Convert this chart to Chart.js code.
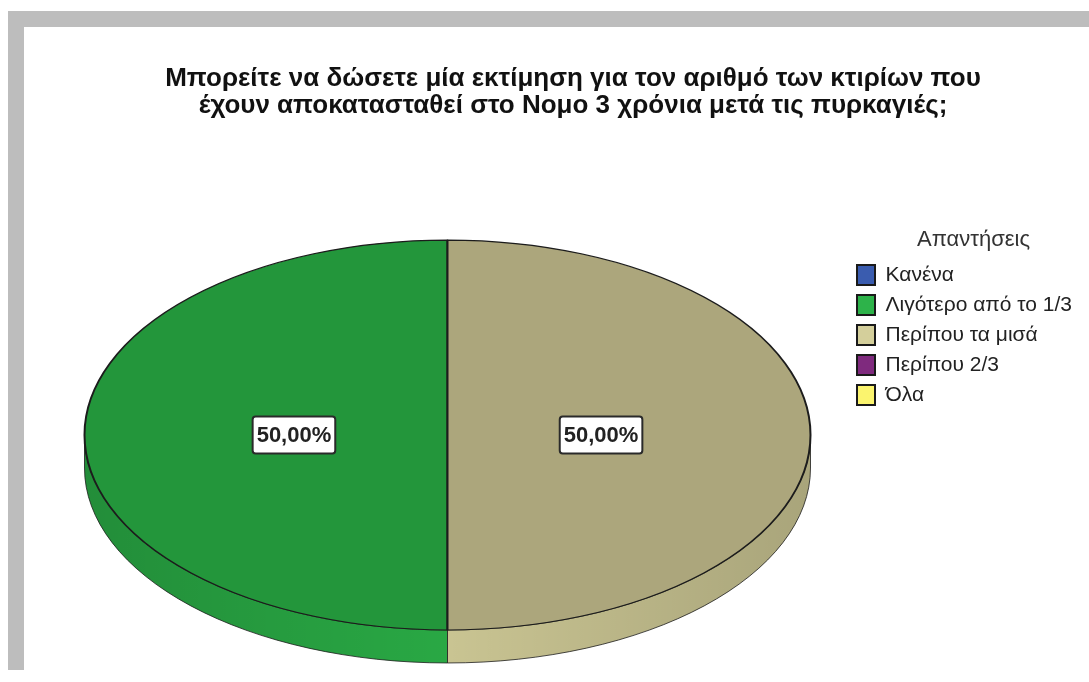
<!DOCTYPE html>
<html>
<head>
<meta charset="utf-8">
<script src="https://cdn.jsdelivr.net/npm/chart.js@4"></script>
<style>
  html, body { margin: 0; padding: 0; background: #fff; width: 1089px; height: 682px; overflow: hidden; }
  .frame-top { position: absolute; left: 8px; top: 11px; width: 1081px; height: 16px; background: #bdbdbd; }
  .frame-left { position: absolute; left: 8px; top: 11px; width: 16px; height: 659px; background: #bdbdbd; }
  #chartPie { position: absolute; left: 0; top: 0; z-index: 2; }
</style>
</head>
<body>
<div class="frame-top"></div>
<div class="frame-left"></div>
<canvas id="chartPie" width="1120" height="682"></canvas>
<script>
// pie chart data
var categories = ['Κανένα', 'Λιγότερο από το 1/3', 'Περίπου τα μισά', 'Περίπου 2/3', 'Όλα'];
var values = [0, 50, 50, 0, 0];
var chartTitle = ['Μπορείτε να δώσετε μία εκτίμηση για τον αριθμό των κτιρίων που',
                  'έχουν αποκατασταθεί στο Νομο 3 χρόνια μετά τις πυρκαγιές;'];
var legendTitle = 'Απαντήσεις';

// colours: top face, side face, legend swatch
var topColors = ['#33509a', '#23963b', '#aca67c', '#6e2570', '#d8d05a'];
var sideColors = ['#3a5caf', '#29a844', '#c9c492', '#7e2a7e', '#f5ec68'];
var legendColors = ['#3a5caf', '#2db34a', '#d4cf9b', '#7f2a7e', '#fbf46e'];

var TILT = 0.537;      // vertical squash of the pie
var DEPTH = 33;        // thickness of the pie side
var LABEL_POS = 0.423; // label distance as part of radius
var LEGEND_W = 251;
var FONT = '"Liberation Sans", Arial, sans-serif';

// 3d look: draw the side, then the squashed arcs
var pie3d = {
  id: 'pie3d',
  beforeDatasetDraw: function(chart, args) {
    var ctx = chart.ctx;
    var arcs = args.meta.data;
    if (!arcs.length) return;
    var cx = arcs[0].x, cy = arcs[0].y;

    arcs.forEach(function(arc, i) {
      var r = arc.outerRadius, ry = r * TILT;
      for (var k = -1; k <= 1; k++) {
        var s = Math.max(arc.startAngle, 2 * Math.PI * k);
        var e = Math.min(arc.endAngle, 2 * Math.PI * k + Math.PI);
        if (e - s <= 0) continue;
        ctx.save();
        ctx.beginPath();
        ctx.ellipse(cx, cy, r, ry, 0, s, e, false);
        ctx.ellipse(cx, cy + DEPTH, r, ry, 0, e, s, true);
        ctx.closePath();
        ctx.fillStyle = sideColors[i];
        ctx.fill();
        // shade towards the outer ends
        var g = ctx.createLinearGradient(cx - r, 0, cx + r, 0);
        g.addColorStop(0, 'rgba(0,0,0,0.16)');
        g.addColorStop(0.5, 'rgba(0,0,0,0)');
        g.addColorStop(1, 'rgba(0,0,0,0.16)');
        ctx.fillStyle = g;
        ctx.fill();
        ctx.lineWidth = 1;
        ctx.strokeStyle = 'rgba(30,30,30,0.8)';
        ctx.stroke();
        ctx.restore();
      }
    });

    ctx.save();
    ctx.translate(cx, cy);
    ctx.scale(1, TILT);
    ctx.translate(-cx, -cy);
    arcs.forEach(function(arc) { arc.draw(ctx); });
    ctx.restore();
    return false;
  },
  afterDatasetsDraw: function(chart) {
    var ctx = chart.ctx;
    var meta = chart.getDatasetMeta(0);
    var total = values.reduce(function(a, b) { return a + b; }, 0);
    meta.data.forEach(function(arc, i) {
      if (!values[i]) return;
      var mid = (arc.startAngle + arc.endAngle) / 2;
      var px = arc.x + Math.cos(mid) * arc.outerRadius * LABEL_POS;
      var py = arc.y + Math.sin(mid) * arc.outerRadius * LABEL_POS * TILT;
      var text = (values[i] / total * 100).toFixed(2).replace('.', ',') + '%';
      ctx.save();
      ctx.font = 'bold 22px ' + FONT;
      var w = ctx.measureText(text).width + 8, h = 37;
      ctx.beginPath();
      if (ctx.roundRect) ctx.roundRect(px - w / 2, py - h / 2, w, h, 3);
      else ctx.rect(px - w / 2, py - h / 2, w, h);
      ctx.fillStyle = '#ffffff';
      ctx.fill();
      ctx.lineWidth = 2;
      ctx.strokeStyle = '#2a2a2a';
      ctx.stroke();
      ctx.fillStyle = '#222';
      ctx.textAlign = 'center';
      ctx.textBaseline = 'middle';
      ctx.fillText(text, px, py + 1);
      ctx.restore();
    });
  }
};

// fixed legend width so the pie and the title sit where they should
var legendBox = {
  id: 'legendBox',
  beforeLayout: function(chart) {
    var legend = chart.legend;
    if (legend && !legend._fixedWidth) {
      var fit = legend.fit;
      legend.fit = function() {
        fit.call(this);
        this.width = LEGEND_W;
      };
      legend._fixedWidth = true;
    }
  }
};

function init_pieChart() {
  var ctx = document.getElementById('chartPie');
  return new Chart(ctx, {
    type: 'pie',
    data: {
      labels: categories,
      datasets: [{
        data: values,
        backgroundColor: topColors,
        borderColor: '#1c1c1c',
        borderWidth: 2,
        radius: 363,
        rotation: 180
      }]
    },
    plugins: [pie3d, legendBox],
    options: {
      responsive: false,
      animation: false,
      devicePixelRatio: 1,
      layout: {
        padding: { top: 0, left: 47, right: 21, bottom: 12 }
      },
      plugins: {
        title: {
          display: true,
          text: chartTitle,
          color: '#111',
          font: { family: FONT, size: 26, weight: 'bold', lineHeight: 1.04 },
          padding: { top: 65.5, bottom: 80.5 }
        },
        legend: {
          position: 'right',
          align: 'start',
          fullSize: false,
          title: {
            display: true,
            text: legendTitle,
            color: '#333',
            font: { family: FONT, size: 22, lineHeight: 1.15 },
            padding: { top: 29, bottom: 1 }
          },
          labels: {
            boxWidth: 18,
            boxHeight: 20,
            padding: 9,
            color: '#222',
            font: { family: FONT, size: 21 },
            generateLabels: function() {
              return categories.map(function(c, i) {
                return { text: c, fillStyle: legendColors[i], strokeStyle: '#1a1a1a',
                         lineWidth: 2, hidden: false, index: i, fontColor: '#222' };
              });
            }
          }
        },
        tooltip: { enabled: false }
      }
    }
  });
}

init_pieChart();
</script>
</body>
</html>
